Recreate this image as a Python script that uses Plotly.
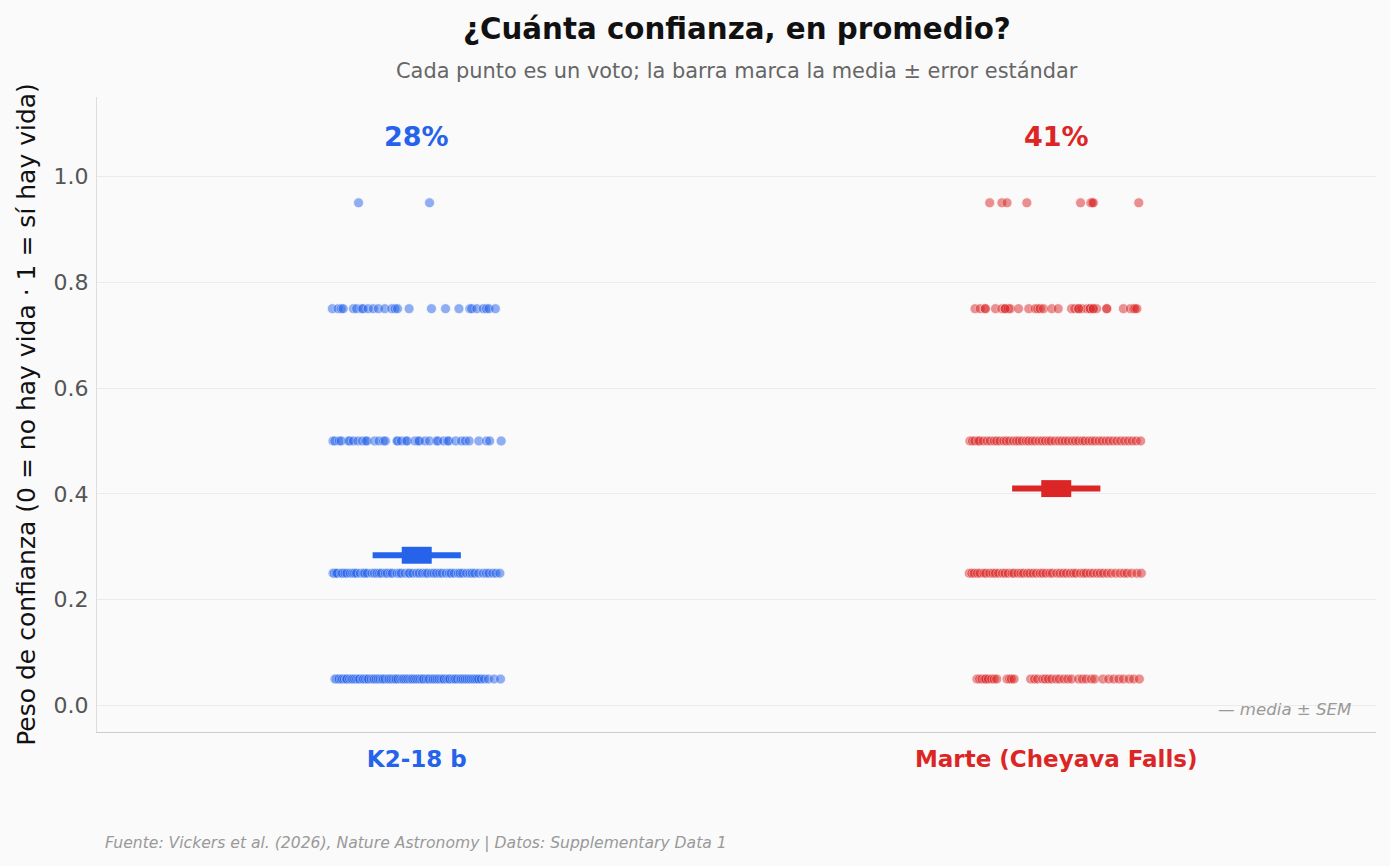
import plotly.graph_objects as go

# ---------------- data ----------------
categories = ["K2-18 b", "Marte (Cheyava Falls)"]
colors = ["#2563eb", "#dc2626"]
levels = [0.05, 0.25, 0.5, 0.75, 0.95]
pct_labels = ["28%", "41%"]
means = [0.284, 0.410]
sems = [0.016, 0.016]
y_ticks = [0.0, 0.2, 0.4, 0.6, 0.8, 1.0]

# horizontal jitter offsets (category units) of each vote
k2_005 = [-0.128, -0.126, -0.123, -0.121, -0.118, -0.116, -0.113, -0.110, -0.109, -0.105,
          -0.102, -0.100, -0.097, -0.094, -0.091, -0.089, -0.085, -0.083, -0.080, -0.077,
          -0.075, -0.071, -0.068, -0.066, -0.063, -0.060, -0.057, -0.054, -0.052, -0.049,
          -0.045, -0.043, -0.040, -0.037, -0.034, -0.032, -0.029, -0.025, -0.022, -0.020,
          -0.017, -0.014, -0.011, -0.008, -0.006, -0.003, 0.000, 0.003, 0.006, 0.009,
          0.011, 0.015, 0.018, 0.020, 0.024, 0.026, 0.029, 0.032, 0.035, 0.038,
          0.041, 0.043, 0.047, 0.050, 0.052, 0.056, 0.059, 0.061, 0.064, 0.068,
          0.070, 0.073, 0.076, 0.079, 0.082, 0.085, 0.088, 0.091, 0.094, 0.097,
          0.101, 0.106, 0.112, 0.121, 0.131]
k2_025 = [-0.131, -0.129, -0.126, -0.124, -0.118, -0.116, -0.112, -0.109, -0.104, -0.100,
          -0.097, -0.094, -0.088, -0.083, -0.081, -0.077, -0.070, -0.066, -0.062, -0.058,
          -0.055, -0.049, -0.046, -0.041, -0.038, -0.031, -0.027, -0.024, -0.018, -0.013,
          -0.011, -0.006, 0.000, 0.004, 0.009, 0.014, 0.017, 0.023, 0.027, 0.031,
          0.036, 0.040, 0.046, 0.051, 0.054, 0.059, 0.065, 0.068, 0.072, 0.078,
          0.083, 0.087, 0.091, 0.097, 0.104, 0.109, 0.113, 0.119, 0.124, 0.130]
k2_050 = [-0.131, -0.128, -0.121, -0.118, -0.107, -0.105, -0.099, -0.092, -0.085, -0.080,
          -0.078, -0.066, -0.059, -0.052, -0.049, -0.031, -0.030, -0.024, -0.017, -0.015,
          -0.003, 0.002, 0.004, 0.013, 0.020, 0.031, 0.033, 0.042, 0.048, 0.050,
          0.061, 0.070, 0.076, 0.082, 0.097, 0.109, 0.114, 0.132]
k2_075 = [-0.132, -0.123, -0.118, -0.115, -0.099, -0.094, -0.086, -0.084, -0.076, -0.068,
          -0.060, -0.050, -0.039, -0.034, -0.030, -0.012, 0.023, 0.045, 0.066, 0.083,
          0.086, 0.094, 0.104, 0.109, 0.113, 0.123]
k2_095 = [-0.091, 0.020]

ma_005 = [-0.124, -0.120, -0.116, -0.112, -0.110, -0.106, -0.101, -0.097, -0.093,
          -0.077, -0.073, -0.070, -0.066,
          -0.040, -0.034, -0.029, -0.021, -0.017, -0.012, -0.007, 0.000, 0.005, 0.012,
          0.018, 0.024, 0.035, 0.041, 0.047, 0.055, 0.060, 0.073, 0.082,
          0.090, 0.098, 0.105, 0.114, 0.121, 0.130]
ma_025 = [-0.136, -0.132, -0.128, -0.123, -0.119, -0.113, -0.110, -0.104, -0.099, -0.095,
          -0.090, -0.084, -0.080, -0.075, -0.069, -0.066, -0.060, -0.055, -0.051, -0.045,
          -0.041, -0.036, -0.031, -0.025, -0.021, -0.016, -0.010, -0.006, 0.001, 0.006,
          0.011, 0.016, 0.022, 0.027, 0.031, 0.038, 0.043, 0.047, 0.053, 0.058,
          0.064, 0.069, 0.074, 0.080, 0.086, 0.093, 0.100, 0.106, 0.111, 0.118,
          0.126, 0.133]
ma_050 = [-0.135, -0.131, -0.127, -0.122, -0.120, -0.114, -0.108, -0.103, -0.097, -0.093,
          -0.088, -0.082, -0.078, -0.073, -0.067, -0.062, -0.058, -0.053, -0.047, -0.043,
          -0.038, -0.033, -0.027, -0.022, -0.017, -0.012, -0.008, -0.002, 0.004, 0.009,
          0.014, 0.019, 0.025, 0.030, 0.035, 0.041, 0.045, 0.051, 0.056, 0.061,
          0.067, 0.072, 0.078, 0.083, 0.089, 0.095, 0.101, 0.107, 0.113, 0.119,
          0.125, 0.132]
ma_075 = [-0.127, -0.119, -0.111, -0.095, -0.085, -0.080, -0.075, -0.072, -0.059, -0.043,
          -0.033, -0.029, -0.025, -0.020, -0.007, 0.003, 0.024, 0.029, 0.035, 0.040,
          0.048, 0.053, 0.058, 0.063, 0.079, 0.105, 0.116, 0.121, 0.123, 0.126,
          -0.111, 0.035, 0.053, 0.079, -0.080, 0.058]
ma_095 = [-0.104, -0.085, -0.077, -0.046, 0.038, 0.054, 0.056, 0.058, 0.129]

jitter = [[k2_005, k2_025, k2_050, k2_075, k2_095],
          [ma_005, ma_025, ma_050, ma_075, ma_095]]

# ---------------- figure ----------------
FONT = "DejaVu Sans"
BG = "#fafafa"
fig = go.Figure()

for ci, cat in enumerate(categories):
    xs, ys = [], []
    for li, lv in enumerate(levels):
        for off in jitter[ci][li]:
            xs.append(ci + off)
            ys.append(lv)
    fig.add_trace(go.Scatter(
        x=xs, y=ys, mode="markers", name=cat, showlegend=False,
        marker=dict(size=10, color=colors[ci], opacity=0.5,
                    line=dict(width=0.7, color="white")),
        hoverinfo="skip"))

for ci, cat in enumerate(categories):
    # horizontal mean line
    fig.add_trace(go.Scatter(
        x=[ci - 0.069, ci + 0.069], y=[means[ci], means[ci]], mode="lines",
        line=dict(color=colors[ci], width=6), showlegend=False, hoverinfo="skip"))
    # SEM block
    fig.add_trace(go.Scatter(
        x=[ci], y=[means[ci]], mode="markers", showlegend=False, hoverinfo="skip",
        marker=dict(size=1, color=colors[ci], opacity=0),
        error_y=dict(type="data", array=[sems[ci]], color=colors[ci],
                     thickness=30, width=0, visible=True)))
    fig.add_annotation(x=ci, y=1.075, xref="x", yref="y", text=f"<b>{pct_labels[ci]}</b>",
                       showarrow=False, font=dict(family=FONT, size=27, color=colors[ci]))

ticktext = [f"<span style='color:{colors[i]}'><b>{c}</b></span>" for i, c in enumerate(categories)]

fig.update_layout(
    width=1390, height=866,
    paper_bgcolor=BG, plot_bgcolor=BG,
    margin=dict(l=97, r=14, t=97, b=134),
    font=dict(family=FONT, color="#555"),
    xaxis=dict(range=[-0.5, 1.5], tickvals=[0, 1], ticktext=ticktext,
               tickfont=dict(family=FONT, size=23), showgrid=False, zeroline=False,
               showline=True, linecolor="#cccccc", linewidth=1, ticks="",
               ticklabelstandoff=6, fixedrange=True),
    yaxis=dict(range=[-0.05, 1.15], tickvals=y_ticks, tickformat=".1f",
               tickfont=dict(family=FONT, size=22, color="#555"),
               showgrid=True, gridcolor="#ebebeb", gridwidth=1, zeroline=False,
               showline=True, linecolor="#dddddd", linewidth=1, ticks="",
               ticklabelstandoff=3,
               title=dict(text="Peso de confianza (0 = no hay vida · 1 = sí hay vida)",
                          font=dict(family=FONT, size=25, color="#111"), standoff=10)),
)

fig.add_annotation(x=0.5, y=1.107, xref="paper", yref="paper", yanchor="middle",
                   text="<b>¿Cuánta confianza, en promedio?</b>", showarrow=False,
                   font=dict(family=FONT, size=29.3, color="#111"))
fig.add_annotation(x=0.5, y=1.041, xref="paper", yref="paper", yanchor="middle",
                   text="Cada punto es un voto; la barra marca la media ± error estándar",
                   showarrow=False, font=dict(family=FONT, size=20.9, color="#666"))
fig.add_annotation(x=0.982, y=0.0362, xref="paper", yref="paper", xanchor="right",
                   yanchor="middle", text="<i>— media ± SEM</i>", showarrow=False,
                   font=dict(family=FONT, size=16.6, color="#999"))
fig.add_annotation(x=0.0047, y=-0.1748, xref="paper", yref="paper", xanchor="left",
                   yanchor="middle",
                   text="<i>Fuente: Vickers et al. (2026), Nature Astronomy | Datos: Supplementary Data 1</i>",
                   showarrow=False, font=dict(family=FONT, size=15.6, color="#999"))

fig.write_html("out.html")
